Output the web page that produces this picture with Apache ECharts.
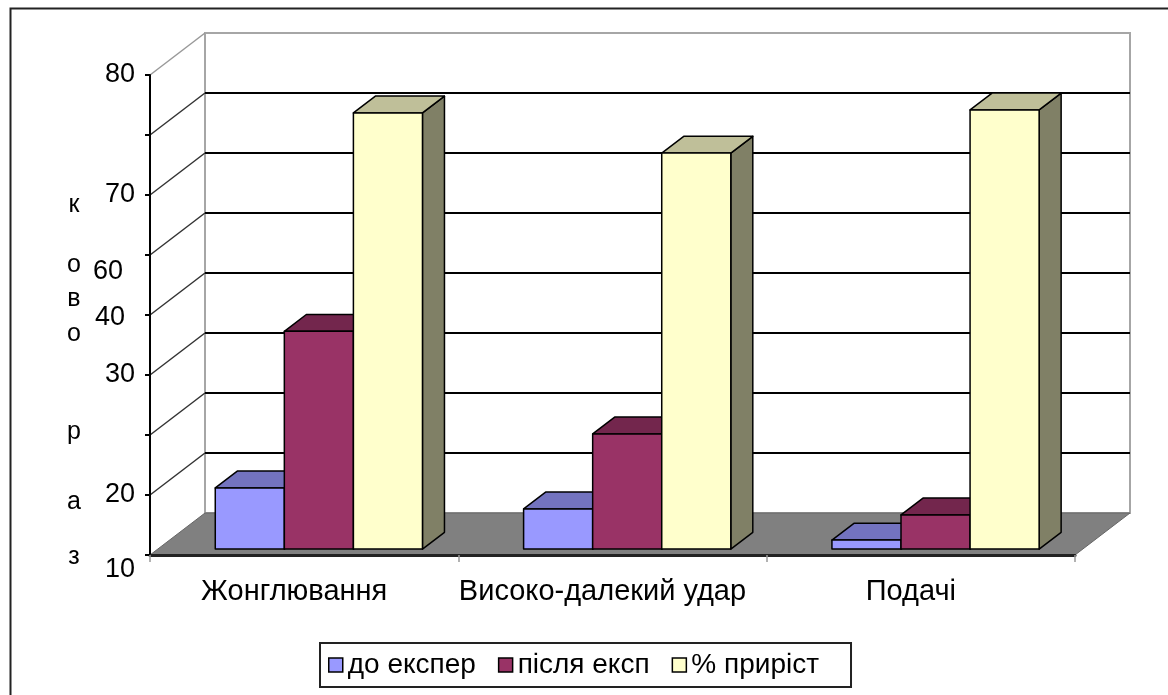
<!DOCTYPE html>
<html>
<head>
<meta charset="utf-8">
<script src="https://cdn.jsdelivr.net/npm/echarts@6/dist/echarts.min.js"></script>
<style>
  html, body { margin: 0; padding: 0; background: #fff; }
  #chart { width: 1168px; height: 695px; }
</style>
</head>
<body>
<div id="chart"></div>
<script>
// data
const categories = ['Жонглювання', 'Високо-далекий удар', 'Подачі'];
const seriesNames = ['до експер', 'після експ', '% приріст'];
const beforeValues = [10.2, 6.7, 1.5];
const afterValues = [36.3, 19.2, 5.7];
const gainValues = [72.7, 66.0, 73.2];
const yTicks = [0, 10, 20, 30, 40, 50, 60, 70, 80];
const yTickLabels = ['10', '20', '', '30', '40', '60', '70', '', '80'];
const axisNameLetters = ['к', 'о', 'в', 'о', 'р', 'а', 'з'];

// 3d look: depth vector of the floor, bars sit between F0 and F1 of the depth
const DX = 55, DY = -42;
const F0 = 0.14, F1 = 0.54;
const SHIFT = 7;
const FONT = "'Liberation Sans', Arial, sans-serif";

const barColors = [
  { front: '#9999FF', top: '#7373BF', side: '#5C5C99' },
  { front: '#993366', top: '#73264D', side: '#5C1F3D' },
  { front: '#FFFFCC', top: '#BFBF99', side: '#808066' }
];

function renderFrame(params, api) {
  const cs = params.coordSys;
  const x0 = cs.x, x1 = cs.x + cs.width;
  const y0 = api.coord([0, 0])[1];
  const yTop = api.coord([0, 80])[1];
  const children = [];
  // back wall
  children.push({
    type: 'rect',
    shape: { x: x0 + DX, y: yTop + DY, width: x1 - x0, height: y0 - yTop },
    style: { fill: '#fff', stroke: '#a6a6a6', lineWidth: 2 }
  });
  yTicks.forEach(t => {
    const y = api.coord([0, t])[1];
    if (t > 0 && t < 80) {
      children.push({
        type: 'line',
        shape: { x1: x0 + DX, y1: y + DY, x2: x1 + DX, y2: y + DY },
        style: { stroke: '#000', lineWidth: 2 }
      });
    }
    if (t > 0) {
      children.push({
        type: 'line',
        shape: { x1: x0, y1: y, x2: x0 + DX, y2: y + DY },
        style: { stroke: t === 80 ? '#999' : '#333', lineWidth: 1.5 }
      });
    }
  });
  // floor
  children.push({
    type: 'polygon',
    shape: { points: [[x0, y0], [x1, y0], [x1 + DX, y0 + DY], [x0 + DX, y0 + DY]] },
    style: { fill: '#808080', stroke: '#666', lineWidth: 1 }
  });
  return { type: 'group', children: children };
}

function barRenderer(s) {
  const c = barColors[s];
  return function (params, api) {
    const i = api.value(0), v = api.value(1);
    const base = api.coord([i, 0]);
    const top = api.coord([i, v]);
    const bw = api.size([1, 0])[0] * 0.224;
    const cx = base[0] + SHIFT + DX * F0;
    const xL = cx + (s - 1.5) * bw;
    const xR = xL + bw;
    const yB = base[1] + DY * F0;
    const yT = top[1] + DY * F0;
    const ddx = DX * (F1 - F0), ddy = DY * (F1 - F0);
    const edge = { stroke: '#000', lineWidth: 1.5, lineJoin: 'round' };
    return {
      type: 'group',
      children: [
        {
          type: 'polygon',
          shape: { points: [[xR, yT], [xR + ddx, yT + ddy], [xR + ddx, yB + ddy], [xR, yB]] },
          style: Object.assign({ fill: c.side }, edge)
        },
        {
          type: 'polygon',
          shape: { points: [[xL, yT], [xR, yT], [xR + ddx, yT + ddy], [xL + ddx, yT + ddy]] },
          style: Object.assign({ fill: c.top }, edge)
        },
        {
          type: 'rect',
          shape: { x: xL, y: yT, width: bw, height: yB - yT },
          style: Object.assign({ fill: c.front }, edge)
        }
      ]
    };
  };
}

const allValues = [beforeValues, afterValues, gainValues];

const chart = echarts.init(document.getElementById('chart'));

const option = {
  animation: false,
  backgroundColor: '#fff',
  textStyle: { fontFamily: FONT },
  grid: { left: 150, right: 93, top: 75, bottom: 140 },
  xAxis: {
    type: 'category',
    data: categories,
    z: 5,
    axisLine: { show: true, lineStyle: { color: '#222', width: 3 } },
    axisTick: { show: true, length: 7, lineStyle: { color: '#999', width: 1.5 } },
    axisLabel: {
      interval: 0,
      hideOverlap: false,
      color: '#000',
      fontSize: 29,
      fontFamily: FONT,
      margin: 22,
      padding: [0, 20, 0, 0]
    },
    splitLine: { show: false }
  },
  yAxis: {
    type: 'value',
    min: 0,
    max: 80,
    interval: 10,
    z: 5,
    axisLine: { show: true, lineStyle: { color: '#000', width: 2 } },
    axisTick: { show: true, length: 5, lineStyle: { color: '#000', width: 2 } },
    splitLine: { show: false },
    axisLabel: {
      margin: 15,
      color: '#000',
      fontSize: 27,
      fontFamily: FONT,
      formatter: function (val) {
        const lab = yTickLabels[Math.round(val / 10)];
        if (!lab) return '';
        if (val === 0) return '{b|' + lab + '}';
        if (val === 40) return '{s|' + lab + '}';
        if (val === 50) return '{d|' + lab + '}';
        return lab;
      },
      rich: {
        b: { fontSize: 27, fontFamily: FONT, color: '#000', padding: [30, 0, 0, 0] },
        s: { fontSize: 27, fontFamily: FONT, color: '#000', padding: [6, 10, 0, 0] },
        d: { fontSize: 27, fontFamily: FONT, color: '#000', padding: [34, 12, 0, 0] }
      }
    }
  },
  legend: {
    left: 320,
    top: 643,
    padding: [8, 32, 8, 8],
    borderColor: '#222',
    borderWidth: 2,
    backgroundColor: '#fff',
    itemWidth: 14,
    itemHeight: 14,
    itemGap: 22,
    textStyle: { fontSize: 28, color: '#000', fontFamily: FONT },
    data: seriesNames.map(n => ({
      name: n,
      icon: 'rect',
      itemStyle: { borderColor: '#000', borderWidth: 1.5 }
    }))
  },
  graphic: [
    {
      type: 'rect',
      left: 8,
      top: 6,
      shape: { width: 1175, height: 700 },
      style: { fill: 'none', stroke: '#222', lineWidth: 2 },
      silent: true
    }
  ].concat(axisNameLetters.map((ch, k) => ({
    type: 'text',
    x: 74,
    y: [205, 265, 299, 334, 432, 502, 557][k],
    style: {
      text: ch,
      fontSize: 25,
      fontFamily: FONT,
      fill: '#000',
      align: 'center',
      verticalAlign: 'middle'
    }
  }))),
  series: [
    {
      type: 'custom',
      name: 'frame',
      z: 1,
      silent: true,
      renderItem: renderFrame,
      data: [[0, 0]]
    }
  ].concat(seriesNames.map((n, s) => ({
    type: 'custom',
    name: n,
    z: 2,
    itemStyle: { color: barColors[s].front },
    encode: { x: 0, y: 1 },
    renderItem: barRenderer(s),
    data: categories.map((c, i) => [i, allValues[s][i]])
  })))
};

chart.setOption(option);
</script>
</body>
</html>
